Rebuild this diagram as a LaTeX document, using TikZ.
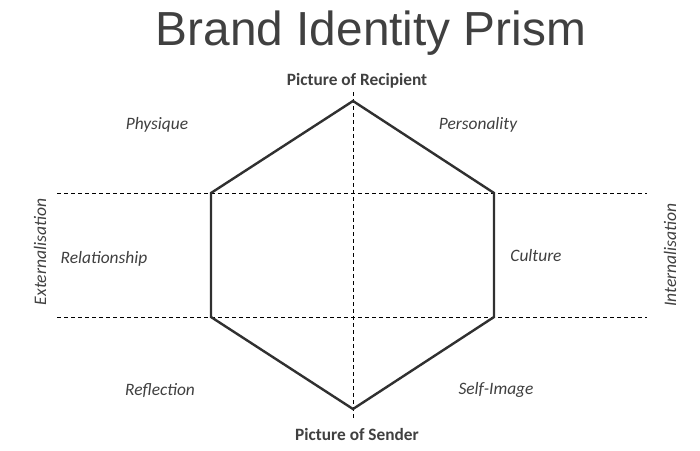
\documentclass[tikz,border=0pt]{standalone}
\usepackage{fontspec}
\setmainfont{Carlito}
\newfontfamily\titlefont{Liberation Sans}
\definecolor{txt}{HTML}{404040}
\definecolor{hexc}{HTML}{303030}
\begin{document}
\begin{tikzpicture}[x=1pt,y=-1pt,
  lab/.style={font=\fontsize{17.4}{19}\selectfont\itshape, text=txt, inner sep=0pt},
  pic/.style={font=\fontsize{17.3}{19}\selectfont\bfseries, text=txt, inner sep=0pt},
  side/.style={font=\fontsize{17.6}{19}\selectfont\itshape, text=txt, inner sep=0pt, rotate=90},
  dline/.style={draw=black, dashed, dash pattern=on 4pt off 3pt, line width=0.9pt},
  hexline/.style={draw=hexc, line width=2.4pt, line join=miter}]
\useasboundingbox[fill=white] (0,0) rectangle (700,450);
\node[font=\titlefont\fontsize{47.8}{52}\selectfont, text=txt, inner sep=0pt] (title) at (371,33) {Brand Identity Prism};
% dashed guide lines
\coordinate (hl1a) at (57,193); \coordinate (hl1b) at (647,193);
\coordinate (hl2a) at (57,317); \coordinate (hl2b) at (647,317);
\coordinate (vla) at (353,92); \coordinate (vlb) at (353,420);
\draw[dline] (hl1a) -- (hl1b);
\draw[dline] (hl2a) -- (hl2b);
\draw[dline] (vla) -- (vlb);
% hexagon
\coordinate (t) at (353,101);
\coordinate (ur) at (494,193);
\coordinate (lr) at (494,317);
\coordinate (b) at (353,409);
\coordinate (ll) at (211,317);
\coordinate (ul) at (211,193);
\draw[hexline] (t) -- (ur) -- (lr) -- (b) -- (ll) -- (ul) -- cycle;
% labels
\node[pic] (rec) at (357,81) {Picture of Recipient};
\node[pic] (snd) at (357,434) {Picture of Sender};
\node[lab] (phy) at (157,125) {Physique};
\node[lab] (per) at (478,125) {Personality};
\node[lab] (rel) at (104,259) {Relationship};
\node[lab] (cul) at (536,256) {Culture};
\node[lab] (ref) at (160,391) {Reflection};
\node[lab] (self) at (496,390) {Self-Image};
\node[side] (ext) at (40,252) {Externalisation};
\node[side] (int) at (670,255) {Internalisation};
\end{tikzpicture}
\end{document}
